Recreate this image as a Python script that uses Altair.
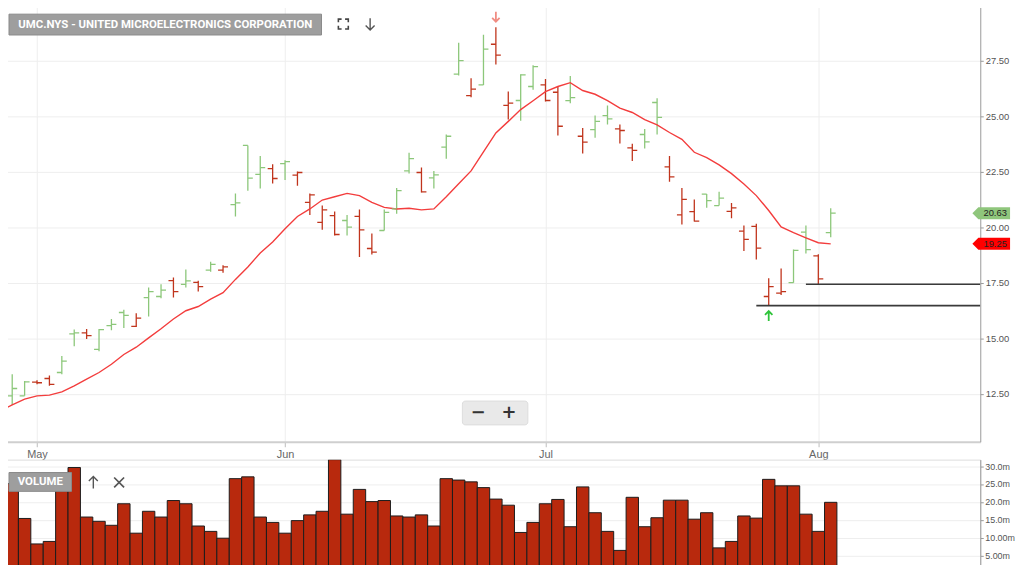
import altair as alt
import pandas as pd

# ---------------- data ----------------
bar_index = list(range(68))
opens = [11.80, 12.41, 12.41, 13.03, 13.19, 13.46, 15.20, 15.24, 14.50, 15.57,
         16.16, 15.54, 16.83, 16.88, 17.59, 17.43, 17.52, 18.07, 18.07, 21.01,
         23.68, 22.38, 22.63, 22.86, 22.34, 21.12, 20.22, 20.52, 20.30, 20.49,
         19.04, 19.85, 20.82, 22.53, 22.46, 22.22, 23.60, 26.89, 25.92, 26.40,
         28.23, 25.48, 25.70, 26.33, 26.40, 26.07, 25.69, 24.09, 24.39, 25.02,
         24.42, 23.57, 24.17, 25.61, 22.71, 20.55, 20.70, 21.49, 20.97, 20.71,
         19.82, 20.04, 16.88, 17.03, 17.50, 19.78, 18.71, 19.75]
highs = [11.90, 13.38, 13.08, 13.11, 13.33, 14.20, 15.39, 15.42, 15.42, 15.87,
         16.28, 16.13, 17.29, 17.43, 17.74, 18.10, 17.59, 18.44, 18.29, 21.52,
         23.68, 23.20, 22.83, 23.01, 22.50, 21.52, 20.97, 20.70, 20.55, 20.79,
         19.71, 20.79, 21.76, 23.35, 22.68, 22.53, 24.17, 28.30, 26.70, 28.66,
         29.00, 26.10, 26.88, 27.29, 26.67, 26.33, 26.80, 24.46, 25.03, 25.48,
         24.62, 23.75, 24.42, 25.80, 23.20, 21.76, 21.24, 21.49, 21.59, 21.09,
         20.08, 20.15, 17.70, 18.14, 18.99, 20.08, 18.78, 20.85]
lows = [11.55, 12.00, 12.41, 12.93, 12.86, 13.38, 14.64, 14.97, 14.42, 15.36,
        15.46, 15.51, 15.98, 16.80, 16.83, 17.29, 17.10, 17.99, 17.95, 20.48,
        21.64, 21.74, 21.96, 22.12, 21.86, 20.55, 19.88, 19.63, 19.63, 18.66,
        18.77, 19.85, 20.60, 22.41, 21.56, 21.74, 23.08, 26.82, 25.85, 26.40,
        27.32, 24.84, 24.79, 26.18, 25.66, 24.13, 25.58, 23.32, 24.02, 24.62,
        23.77, 22.98, 23.54, 24.17, 22.04, 20.12, 20.25, 20.87, 20.97, 20.40,
        18.93, 18.54, 16.47, 16.95, 17.50, 18.81, 17.43, 19.55]
closes = [11.67, 12.74, 13.04, 13.00, 12.93, 13.97, 15.24, 15.12, 15.39, 15.63,
          16.03, 15.91, 17.10, 17.17, 17.10, 17.58, 17.32, 18.33, 18.21, 21.09,
          22.21, 22.68, 22.19, 22.95, 22.46, 21.45, 20.78, 19.67, 20.00, 19.88,
          18.88, 20.67, 21.64, 23.08, 21.59, 22.35, 24.09, 27.49, 26.21, 28.01,
          27.74, 25.58, 26.85, 27.22, 25.70, 24.54, 25.83, 23.83, 24.76, 24.87,
          24.35, 23.46, 23.84, 24.94, 22.26, 21.25, 20.27, 21.19, 21.31, 20.87,
          19.45, 19.06, 17.32, 17.10, 18.96, 18.99, 17.67, 20.63]
moving_avg = [11.74, 12.00, 12.26, 12.41, 12.44, 12.59, 12.86, 13.16, 13.46, 13.83,
              14.27, 14.60, 15.02, 15.43, 15.87, 16.24, 16.43, 16.76, 17.05, 17.65,
              18.21, 18.84, 19.33, 19.93, 20.48, 20.82, 21.22, 21.37, 21.52, 21.42,
              21.12, 20.89, 20.82, 20.85, 20.78, 20.82, 21.37, 21.95, 22.53, 23.39,
              24.24, 24.76, 25.29, 25.69, 26.10, 26.33, 26.50, 26.15, 25.98, 25.69,
              25.36, 25.16, 24.84, 24.60, 24.26, 23.95, 23.37, 23.13, 22.80, 22.41,
              21.94, 21.42, 20.75, 20.01, 19.75, 19.52, 19.30, 19.25]
volumes_m = [12.0, 25.1, 15.4, 8.3, 9.0, 24.0, 29.6, 15.8, 14.6, 13.5,
             19.5, 11.3, 17.4, 15.8, 20.4, 19.5, 13.3, 11.8, 9.9, 26.5,
             27.0, 15.8, 14.3, 11.3, 14.8, 16.4, 17.4, 31.8, 16.6, 23.5,
             20.1, 20.4, 16.1, 15.8, 16.4, 13.3, 26.5, 26.1, 25.6, 24.0,
             20.8, 19.1, 11.5, 14.3, 19.5, 20.7, 13.1, 24.2, 17.0, 11.8,
             6.5, 21.3, 13.1, 15.6, 20.5, 20.5, 15.2, 17.0, 7.2, 9.0,
             16.1, 15.5, 26.3, 24.5, 24.5, 16.6, 11.8, 19.9]
month_index = [3, 23, 44, 66]
month_labels = ["May", "Jun", "Jul", "Aug"]
price_ticks = [12.5, 15.0, 17.5, 20.0, 22.5, 25.0, 27.5]
volume_ticks = [5, 10, 15, 20, 25, 30]
support_levels = [16.47, 17.43]
support_start = [61, 65]
sell_signal_index = [40]
buy_signal_index = [62]
title_text = "UMC.NYS - UNITED MICROELECTRONICS CORPORATION"

# ---------------- layout / style ----------------
W = 987
H_PRICE = 443
H_VOL = 115
X_MIN, X_MAX = 0.1, 79.06
GREEN = "#8cc77a"
RED = "#c0341c"
FONT = "Liberation Sans"
AXIS_FS = 9.5
ARROW_DOWN = "M 0 -1 L 0 1 M -0.75 0.25 L 0 1 L 0.75 0.25"
ARROW_UP = "M 0 1 L 0 -1 M -0.75 -0.25 L 0 -1 L 0.75 -0.25"
CROSS = "M -1 -1 L 1 1 M -1 1 L 1 -1"
FULL = ("M -1 -0.35 L -1 -1 L -0.35 -1 M 0.35 -1 L 1 -1 L 1 -0.35 "
        "M 1 0.35 L 1 1 L 0.35 1 M -0.35 1 L -1 1 L -1 0.35")
TAG = "M -1 0 L -0.68 -0.32 L 1 -0.32 L 1 0.32 L -0.68 0.32 Z"

directions = ["down"] + ["up" if closes[k] >= closes[k - 1] else "down" for k in range(1, len(closes))]
df = pd.DataFrame({"i": bar_index, "open": opens, "high": highs, "low": lows,
                   "close": closes, "ma": moving_avg, "dir": directions,
                   "vol": volumes_m})
df["x0"] = df["i"] - 0.5
df["x1"] = df["i"] + 0.5

xscale = alt.Scale(domain=[X_MIN, X_MAX], nice=False, zero=False)
yscale = alt.Scale(domain=[10.344, 30.12], nice=False, zero=False)
color = alt.Color("dir:N", scale=alt.Scale(domain=["up", "down"], range=[GREEN, RED]), legend=None)

label_expr = " : ".join(f"datum.value == {v} ? '{l}'" for v, l in zip(month_index, month_labels)) + " : ''"
xaxis = alt.Axis(values=month_index, labelExpr=label_expr, grid=True, gridColor="#eeeeee",
                 domainColor="#cfcfcf", domainWidth=2, tickColor="#bdbdbd", tickSize=5,
                 labelColor="#666666", labelFontSize=11, labelFont=FONT, labelPadding=2, title=None)
yaxis = alt.Axis(orient="right", values=price_ticks, format=".2f", grid=True, gridColor="#eeeeee",
                 domainColor="#9a9a9a", tickColor="#9a9a9a", tickSize=3, labelColor="#555555",
                 labelFontSize=AXIS_FS, labelFont=FONT, labelPadding=2, title=None)

base = alt.Chart(df)
wicks = base.mark_rule(strokeWidth=1.3, clip=True).encode(
    x=alt.X("i:Q", scale=xscale, axis=xaxis),
    y=alt.Y("low:Q", scale=yscale, axis=yaxis),
    y2="high:Q", color=color)
open_ticks = base.mark_tick(orient="horizontal", size=5, thickness=1.3, xOffset=-2.5,
                            clip=True, opacity=1).encode(x="i:Q", y="open:Q", color=color)
close_ticks = base.mark_tick(orient="horizontal", size=5, thickness=1.3, xOffset=2.5,
                             clip=True, opacity=1).encode(x="i:Q", y="close:Q", color=color)
ma_line = base.mark_line(color="#f33d3d", strokeWidth=1.4, clip=True).encode(x="i:Q", y="ma:Q")

sup_df = pd.DataFrame({"start": support_start, "level": support_levels})
sup_df["end"] = X_MAX
support = alt.Chart(sup_df).mark_rule(color="#3a3a3a", strokeWidth=1.6, clip=True).encode(
    x="start:Q", x2="end:Q", y="level:Q")

sell_df = pd.DataFrame({"i": sell_signal_index, "p": [highs[k] for k in sell_signal_index]})
buy_df = pd.DataFrame({"i": buy_signal_index, "p": [lows[k] for k in buy_signal_index]})
sell_arrow = alt.Chart(sell_df).mark_point(shape=ARROW_DOWN, size=100, filled=False, color="#f08c82",
                                           strokeWidth=1.8, opacity=1, yOffset=-10.5).encode(
    x="i:Q", y="p:Q")
buy_arrow = alt.Chart(buy_df).mark_point(shape=ARROW_UP, size=100, filled=False, color="#2fc43a",
                                         strokeWidth=1.8, opacity=1, yOffset=10.5).encode(
    x="i:Q", y="p:Q")

tag_df = pd.DataFrame({"edge": [X_MAX, X_MAX], "v": [closes[-1], moving_avg[-1]],
                       "kind": ["close", "ma"]})
tag_df["txt"] = tag_df["v"].map(lambda v: f"{v:.2f}")
tags = alt.Chart(tag_df).mark_point(shape=TAG, size=1444, filled=True, opacity=1,
                                    strokeWidth=0, xOffset=11).encode(
    x="edge:Q", y="v:Q",
    fill=alt.Fill("kind:N", scale=alt.Scale(domain=["close", "ma"], range=["#8fc67c", "#ff0000"]),
                  legend=None))
tag_text = alt.Chart(tag_df).mark_text(xOffset=15, fontSize=AXIS_FS, font=FONT, color="#222222").encode(
    x="edge:Q", y="v:Q", text="txt:N")

one = pd.DataFrame({"a": [0]})
title_box = alt.Chart(one).mark_rect(fill="#9e9e9e", stroke="#8a8a8a", strokeWidth=1).encode(
    x=alt.value(8), x2=alt.value(323), y=alt.value(12), y2=alt.value(33))
title_txt = alt.Chart(one).mark_text(text=title_text, color="white", fontSize=11.5, font="Roboto",
                                     fontWeight="bold").encode(x=alt.value(165.5), y=alt.value(22.5))
full_icon = alt.Chart(one).mark_point(shape=FULL, size=100, filled=False, color="#444444",
                                      strokeWidth=1.6, opacity=1).encode(x=alt.value(345), y=alt.value(22))
down_icon = alt.Chart(one).mark_point(shape=ARROW_DOWN, size=144, filled=False, color="#555555",
                                      strokeWidth=1.4, opacity=1).encode(x=alt.value(372), y=alt.value(22))
zoom_box = alt.Chart(one).mark_rect(fill="#e9e9e9", stroke="#dddddd", cornerRadius=3).encode(
    x=alt.value(465), x2=alt.value(531), y=alt.value(402), y2=alt.value(426))
zoom_minus = alt.Chart(one).mark_text(text="−", color="#333333", fontSize=18, fontWeight="bold",
                                      font="DejaVu Sans").encode(x=alt.value(481), y=alt.value(414))
zoom_plus = alt.Chart(one).mark_text(text="+", color="#333333", fontSize=18, fontWeight="bold",
                                     font="DejaVu Sans").encode(x=alt.value(512), y=alt.value(414))

price = alt.layer(wicks, ma_line, open_ticks, close_ticks, support, sell_arrow, buy_arrow,
                  tags, tag_text, title_box, title_txt, full_icon, down_icon,
                  zoom_box, zoom_minus, zoom_plus).properties(width=W, height=H_PRICE)

vol_expr = "datum.value >= 15 ? format(datum.value, '.1f') + 'm' : format(datum.value, '.2f') + 'm'"
vbars = alt.Chart(df).mark_rect(fill="#b8290d", stroke="#1c1c1c", strokeWidth=1, clip=True).encode(
    x=alt.X("x0:Q", scale=xscale, axis=None), x2="x1:Q",
    y=alt.Y("vol:Q", scale=alt.Scale(domain=[0, 31.8], nice=False),
            axis=alt.Axis(orient="right", values=volume_ticks, labelExpr=vol_expr, grid=True,
                          gridColor="#eeeeee", domainColor="#9a9a9a", tickColor="#9a9a9a",
                          tickSize=3, labelColor="#555555", labelFontSize=9, labelFont=FONT,
                          labelPadding=1.5, title=None)),
    y2=alt.datum(0))
vol_box = alt.Chart(one).mark_rect(fill="#9e9e9e", stroke="#8a8a8a", strokeWidth=1).encode(
    x=alt.value(8), x2=alt.value(71), y=alt.value(13), y2=alt.value(32))
vol_txt = alt.Chart(one).mark_text(text="VOLUME", color="white", fontSize=11.5, font="Roboto",
                                   fontWeight="bold").encode(x=alt.value(39.5), y=alt.value(23))
vol_up = alt.Chart(one).mark_point(shape=ARROW_UP, size=144, filled=False, color="#555555",
                                   strokeWidth=1.4, opacity=1).encode(x=alt.value(93), y=alt.value(23))
vol_x = alt.Chart(one).mark_point(shape=CROSS, size=100, filled=False, color="#555555",
                                  strokeWidth=1.7, opacity=1).encode(x=alt.value(119), y=alt.value(23))
volume = alt.layer(vbars, vol_box, vol_txt, vol_up, vol_x).properties(
    width=W, height=H_VOL, view=alt.ViewBackground(stroke="#dddddd"))

chart = alt.vconcat(price, volume, spacing=18, bounds="flush").properties(
    padding={"left": -8, "top": -8, "right": 0, "bottom": -12}, background="white"
).configure_view(stroke=None)

chart.save("out.html", embed_options={"renderer": "svg", "actions": False})
